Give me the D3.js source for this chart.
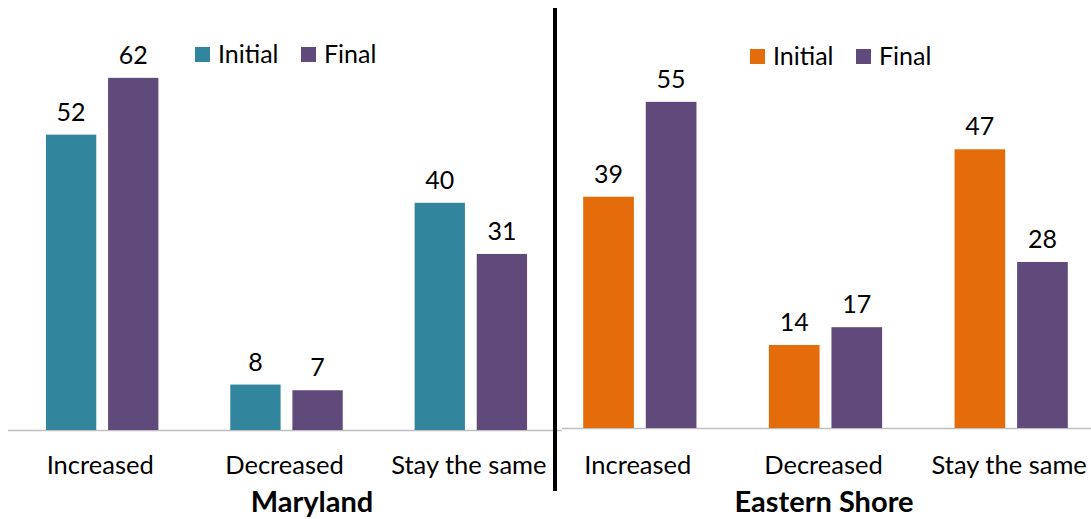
<!DOCTYPE html>
<html><head><meta charset="utf-8">
<script src="https://cdn.jsdelivr.net/npm/d3@7"></script>
<style>body{margin:0;background:#fff}svg{display:block}text{font-family:Lato,"Open Sans",sans-serif}</style>
</head><body><svg id="c" width="1091" height="519"></svg>
<script>
const categories = ["Increased","Decreased","Stay the same"];
const seriesNames = ["Initial","Final"];
const marylandInitial = [52, 8, 40];
const marylandFinal = [62, 7, 31];
const easternInitial = [39, 14, 47];
const easternFinal = [55, 17, 28];
const panelTitles = ["Maryland","Eastern Shore"];

const svg = d3.select("#c");
const panels = [
  {title: panelTitles[0], initial: marylandInitial, final: marylandFinal,
   colors: ["#31859C","#604A7B"], xr: [10,563], base: 430, ppu: 5.68,
   axis: [8,562], titleX: 312, legendX: 195, legendY: 47},
  {title: panelTitles[1], initial: easternInitial, final: easternFinal,
   colors: ["#E46C0A","#604A7B"], xr: [547,1104], base: 428, ppu: 5.93,
   axis: [562,1091], titleX: 824, legendX: 750, legendY: 49}
];

panels.forEach(p => {
  const g = svg.append("g");
  const x0 = d3.scaleBand().domain(categories).range(p.xr).paddingInner(0.39).paddingOuter(0.195);
  const x1 = d3.scaleBand().domain(seriesNames).range([0, x0.bandwidth()]).paddingInner(0.19);
  const y = d3.scaleLinear().domain([0,70]).range([p.base, p.base - 70*p.ppu]);
  const color = d3.scaleOrdinal().domain(seriesNames).range(p.colors);
  const rows = categories.map((c,i) => ({cat:c, vals:[{s:"Initial", v:p.initial[i]},{s:"Final", v:p.final[i]}]}));

  g.append("line").attr("x1", p.axis[0]).attr("x2", p.axis[1])
    .attr("y1", p.base + 0.5).attr("y2", p.base + 0.5)
    .attr("stroke", "#BFBFBF").attr("stroke-width", 1.5);

  const grp = g.selectAll("g.cat").data(rows).join("g")
    .attr("transform", d => `translate(${x0(d.cat)},0)`);
  grp.selectAll("rect").data(d => d.vals).join("rect")
    .attr("x", d => x1(d.s)).attr("width", x1.bandwidth())
    .attr("y", d => y(d.v)).attr("height", d => y(0) - y(d.v))
    .attr("fill", d => color(d.s));
  grp.selectAll("text").data(d => d.vals).join("text")
    .attr("x", d => x1(d.s) + x1.bandwidth()/2).attr("y", d => y(d.v) - 14)
    .attr("text-anchor", "middle").attr("font-size", 25).attr("fill", "#000")
    .text(d => d.v);

  g.selectAll("text.cl").data(categories).join("text").attr("class","cl")
    .attr("x", d => x0(d) + x0.bandwidth()/2 - 2).attr("y", 474)
    .attr("text-anchor","middle").attr("font-size", 25.5).attr("fill","#000")
    .text(d => d);

  g.append("text").attr("x", p.titleX).attr("y", 512).attr("text-anchor","middle")
    .attr("font-size", 29).attr("font-weight","bold").attr("fill","#000").text(p.title);

  // legend
  const lg = g.append("g").attr("transform", `translate(${p.legendX},${p.legendY})`);
  const offsets = [0, 106];
  seriesNames.forEach((s,i) => {
    lg.append("rect").attr("x", offsets[i]).attr("y", 0).attr("width", 15).attr("height", 15).attr("fill", color(s));
    lg.append("text").attr("x", offsets[i] + 23).attr("y", 16).attr("font-size", 25).attr("fill","#000").text(s);
  });
});

svg.append("line").attr("x1", 555).attr("x2", 555).attr("y1", 8).attr("y2", 491)
  .attr("stroke", "#000").attr("stroke-width", 4);
</script></body></html>
